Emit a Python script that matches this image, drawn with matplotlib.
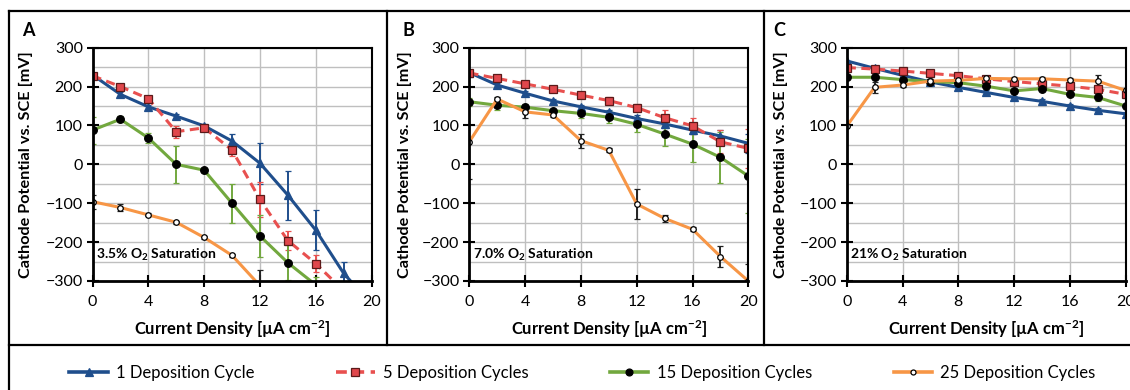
import numpy as np
import matplotlib
matplotlib.use("Agg")
import matplotlib.pyplot as plt
from matplotlib.lines import Line2D

plt.rcParams['font.family'] = ['Lato', 'DejaVu Sans']
plt.rcParams['mathtext.default'] = 'regular'

x = [0, 2, 4, 6, 8, 10, 12, 14, 16, 18, 20]
nan = np.nan

series_names = ["1 Deposition Cycle", "5 Deposition Cycles",
                "15 Deposition Cycles", "25 Deposition Cycles"]

# Panel A (3.5% O2)
a_c1 = [230, 180, 148, 124, 99, 60, 3, -79, -169, -280, -360]
a_c1_err = [0, 5, 5, 5, 5, 18, 53, 63, 51, 28, 0]
a_c5 = [228, 200, 169, 84, 94, 37, -90, -196, -255, -325, nan]
a_c5_err = [0, 5, 5, 15, 5, 15, 45, 25, 22, 0, 0]
a_c15 = [88, 116, 68, 0, -15, -100, -184, -253, -310, nan, nan]
a_c15_err = [35, 8, 12, 48, 5, 50, 55, 45, 20, 0, 0]
a_c25 = [-96, -111, -130, -149, -188, -234, -312, nan, nan, nan, nan]
a_c25_err = [18, 8, 4, 4, 4, 4, 40, 0, 0, 0, 0]

# Panel B (7.0% O2)
b_c1 = [236, 204, 183, 163, 148, 134, 118, 104, 88, 73, 54]
b_c1_err = [0, 5, 5, 5, 5, 5, 8, 10, 10, 15, 25]
b_c5 = [235, 221, 207, 193, 178, 164, 146, 120, 99, 58, 41]
b_c5_err = [0, 5, 5, 5, 5, 8, 8, 20, 20, 30, 50]
b_c15 = [161, 152, 147, 138, 131, 121, 103, 78, 52, 18, -30]
b_c15_err = [10, 12, 8, 5, 12, 15, 20, 30, 45, 65, 95]
b_c25 = [58, 168, 135, 127, 61, 36, -102, -139, -167, -237, -300]
b_c25_err = [95, 5, 15, 5, 18, 5, 38, 10, 5, 28, 45]

# Panel C (21% O2)
c_c1 = [266, 247, 229, 212, 198, 185, 172, 162, 150, 139, 130]
c_c1_err = [0, 5, 5, 5, 5, 5, 5, 5, 5, 5, 5]
c_c5 = [249, 245, 240, 234, 228, 220, 213, 207, 201, 193, 180]
c_c5_err = [0, 5, 5, 5, 5, 5, 5, 5, 10, 10, 8]
c_c15 = [224, 224, 218, 213, 210, 201, 189, 195, 180, 172, 150]
c_c15_err = [5, 5, 5, 5, 5, 5, 5, 5, 5, 8, 20]
c_c25 = [98, 198, 204, 214, 216, 221, 220, 220, 217, 214, 190]
c_c25_err = [0, 15, 5, 5, 5, 5, 5, 5, 5, 15, 5]

panel_letters = ["A", "B", "C"]
panel_notes = ["3.5% O$_2$ Saturation", "7.0% O$_2$ Saturation", "21% O$_2$ Saturation"]

panels = [
    [(a_c1, a_c1_err), (a_c5, a_c5_err), (a_c15, a_c15_err), (a_c25, a_c25_err)],
    [(b_c1, b_c1_err), (b_c5, b_c5_err), (b_c15, b_c15_err), (b_c25, b_c25_err)],
    [(c_c1, c_c1_err), (c_c5, c_c5_err), (c_c15, c_c15_err), (c_c25, c_c25_err)],
]

BLUE = '#1F4E8C'
RED = '#E8504F'
GREEN = '#72A83E'
ORANGE = '#F79646'

styles = [
    dict(color=BLUE, ls='-', marker='^', mfc=BLUE, mec=BLUE, ms=6, ecolor=BLUE),
    dict(color=RED, ls=(0, (3, 1.8)), marker='s', mfc='#E0474C', mec='#5a1a1a', ms=6, ecolor=RED),
    dict(color=GREEN, ls='-', marker='o', mfc='black', mec='black', ms=5.5, ecolor=GREEN),
    dict(color=ORANGE, ls='-', marker='o', mfc='white', mec='black', ms=4, ecolor='#222222'),
]

W, H = 1130, 390
fig = plt.figure(figsize=(W / 100, H / 100), dpi=100)

lefts = [92.5, 469.3, 846.7]
ax_w = 279.0
ax_top, ax_bot = 47.7, 281.0
letter_x = [22, 402, 773]
ylabel_x = [-0.213, -0.204, -0.21]

for i, left in enumerate(lefts):
    ax = fig.add_axes([left / W, 1 - ax_bot / H, ax_w / W, (ax_bot - ax_top) / H])
    ax.set_xlim(0, 20)
    ax.set_ylim(-300, 300)
    ax.set_xticks(range(0, 21, 4))
    ax.set_yticks(range(-300, 301, 100))
    ax.set_yticks(range(-300, 301, 50), minor=True)
    ax.grid(True, which='both', axis='y', color='#BFBFBF', lw=1)
    ax.grid(True, which='major', axis='x', color='#BFBFBF', lw=1)
    ax.set_axisbelow(True)
    ax.tick_params(which='minor', left=False)
    ax.tick_params(which='major', direction='inout', length=8, width=1.5,
                   labelsize=11.5, colors='black')
    ax.tick_params(axis='x', pad=6)
    ax.tick_params(axis='y', pad=3)
    for s in ax.spines.values():
        s.set_linewidth(1.5)
        s.set_color('black')
    ax.spines['left'].set_linewidth(2)
    ax.spines['bottom'].set_linewidth(2)
    for (vals, errs), st in zip(panels[i], styles):
        ax.errorbar(x, vals, yerr=errs, color=st['color'], ls=st['ls'], lw=2.2,
                    marker=st['marker'], mfc=st['mfc'], mec=st['mec'], ms=st['ms'],
                    mew=0.9, ecolor=st['ecolor'], elinewidth=1.4, capsize=2.5,
                    capthick=1.4, clip_on=True)
    ax.set_xlabel("Current Density [µA cm$^{-2}$]", fontsize=12, fontweight='bold', labelpad=7)
    ax.set_ylabel("Cathode Potential vs. SCE [mV]", fontsize=11.7, fontweight='bold')
    ax.yaxis.set_label_coords(ylabel_x[i], 0.5)
    ax.text(0.25, -232, panel_notes[i], fontsize=10, fontweight='bold', va='center', ha='left')
    fig.text(letter_x[i] / W, 1 - 30 / H, panel_letters[i], fontsize=13, fontweight='bold',
             va='center', ha='left')

# frame lines
def fl(x0, y0, x1, y1, lw=1.6):
    fig.add_artist(Line2D([x0 / W, x1 / W], [1 - y0 / H, 1 - y1 / H], color='black', lw=lw))

fl(9, 11, W, 11)
fl(9, 11, 9, H)
fl(9, 345, W, 345)
fl(387, 11, 387, 345)
fl(764, 11, 764, 345)

handles = [Line2D([], [], color=st['color'], ls=st['ls'], lw=2.6, marker=st['marker'],
                  mfc=st['mfc'], mec=st['mec'], ms=st['ms'] * 0.9, mew=0.9)
           for st in styles]
leg = fig.legend(handles, series_names, loc='center', bbox_to_anchor=(582.5 / W, 1 - 373 / H),
                 ncol=4, frameon=False, fontsize=12, handlelength=2.3, columnspacing=4.9,
                 handletextpad=0.5)

fig.savefig("out.png", dpi=100)
